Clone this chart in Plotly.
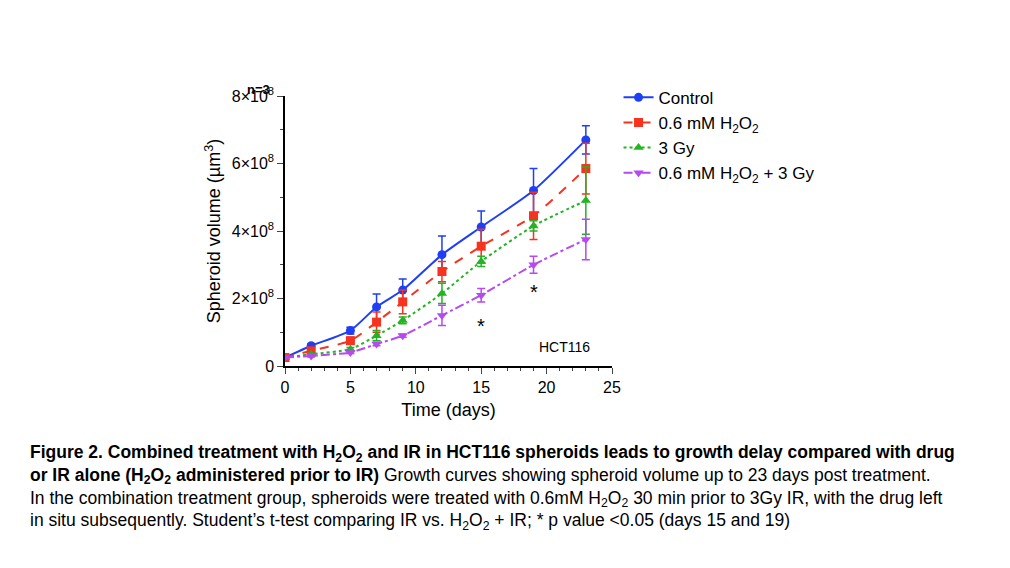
import plotly.graph_objects as go

days = [0, 2, 5, 7, 9, 12, 15, 19, 23]
control = [0.25, 0.6, 1.05, 1.75, 2.25, 3.3, 4.12, 5.2, 6.7]
control_err = [0.05, 0.05, 0.1, 0.38, 0.33, 0.55, 0.47, 0.65, 0.42]
h2o2 = [0.25, 0.45, 0.75, 1.3, 1.9, 2.8, 3.55, 4.45, 5.85]
h2o2_err = [0.03, 0.05, 0.1, 0.3, 0.35, 0.3, 0.5, 0.7, 0.75]
gy3 = [0.25, 0.35, 0.5, 0.9, 1.35, 2.15, 3.1, 4.15, 4.9]
gy3_err = [0.03, 0.03, 0.05, 0.15, 0.1, 0.3, 0.15, 0.15, 1.0]
combo = [0.25, 0.3, 0.4, 0.65, 0.9, 1.5, 2.1, 3.0, 3.75]
combo_err = [0.02, 0.03, 0.03, 0.05, 0.05, 0.3, 0.2, 0.25, 0.6]

series = [
    ("Control", control, control_err, "#1f3ff5", "circle", "solid"),
    ("0.6 mM H<sub>2</sub>O<sub>2</sub>", h2o2, h2o2_err, "#f5331f", "square", "dash"),
    ("3 Gy", gy3, gy3_err, "#22b422", "triangle-up", "dot"),
    ("0.6 mM H<sub>2</sub>O<sub>2</sub> + 3 Gy", combo, combo_err, "#b44af0", "triangle-down", "dashdot"),
]

fig = go.Figure()
for name, vals, err, col, sym, dash in series:
    fig.add_trace(go.Scatter(
        x=days, y=[v * 1e8 for v in vals], name=name, mode="lines+markers",
        line=dict(color=col, dash=dash, width=2, shape="spline", smoothing=0.6),
        marker=dict(color=col, symbol=sym, size=9),
        error_y=dict(type="data", array=[e * 1e8 for e in err], color=col, thickness=1.5, width=4),
    ))

yvals = [0, 2e8, 4e8, 6e8, 8e8]
ytext = ["0"] + ["%d×10<sup>8</sup>" % v for v in (2, 4, 6, 8)]

L, R, T, B = 277, 406, 88, 210
fig.update_layout(
    width=1010, height=568, plot_bgcolor="white", paper_bgcolor="white",
    margin=dict(l=L, r=R, t=T, b=B),
    font=dict(family="Liberation Sans", size=16, color="black"),
    xaxis=dict(range=[0, 25], tickvals=[0, 5, 10, 15, 20, 25], ticks="outside", ticklen=6,
               minor=dict(dtick=1, ticks="outside", ticklen=3), showline=True, linecolor="black",
               linewidth=1.5, showgrid=False, zeroline=False,
               title=dict(text="Time (days)", standoff=8, font=dict(size=18))),
    yaxis=dict(range=[0, 8e8], tickvals=yvals, ticktext=ytext, ticks="outside", ticklen=6,
               minor=dict(dtick=1e8, ticks="outside", ticklen=3), showline=True, linecolor="black",
               linewidth=1.5, showgrid=False, zeroline=False,
               title=dict(text="Spheroid volume (µm<sup>3</sup>)", standoff=6, font=dict(size=18))),
    legend=dict(x=1.02, y=1.06, yanchor="top", font=dict(size=17), bgcolor="rgba(0,0,0,0)"),
    showlegend=True,
)

plot_w = 1010 - L - R
plot_h = 568 - T - B
caption = ("<b>Figure 2. Combined treatment with H<sub>2</sub>O<sub>2</sub> and IR in HCT116 spheroids leads to growth delay compared with drug</b><br>"
           "<b>or IR alone (H<sub>2</sub>O<sub>2</sub> administered prior to IR)</b> Growth curves showing spheroid volume up to 23 days post treatment.<br>"
           "In the combination treatment group, spheroids were treated with 0.6mM H<sub>2</sub>O<sub>2</sub> 30 min prior to 3Gy IR, with the drug left<br>"
           "in situ subsequently. Student’s t-test comparing IR vs. H<sub>2</sub>O<sub>2</sub> + IR; * p value <0.05 (days 15 and 19)")
anns = [
    dict(x=15, y=1.2e8, text="*", xref="x", yref="y", font=dict(size=20)),
    dict(x=19, y=2.2e8, text="*", xref="x", yref="y", font=dict(size=20)),
    dict(x=23.5, y=0.55e8, text="HCT116", xref="x", yref="y", font=dict(size=14), xanchor="right"),
    dict(x=(237 - L) / plot_w, y=(568 - B - 72) / plot_h, text="<b>n=3</b>", xref="paper", yref="paper",
         font=dict(size=13), xanchor="left"),
    dict(x=(20 - L) / plot_w, y=(568 - B - 432) / plot_h, xref="paper", yref="paper", text=caption,
         align="left", xanchor="left", yanchor="top", font=dict(size=17.5)),
]
for a in anns:
    a["showarrow"] = False
fig.update_layout(annotations=anns)

fig.write_html("out.html")
